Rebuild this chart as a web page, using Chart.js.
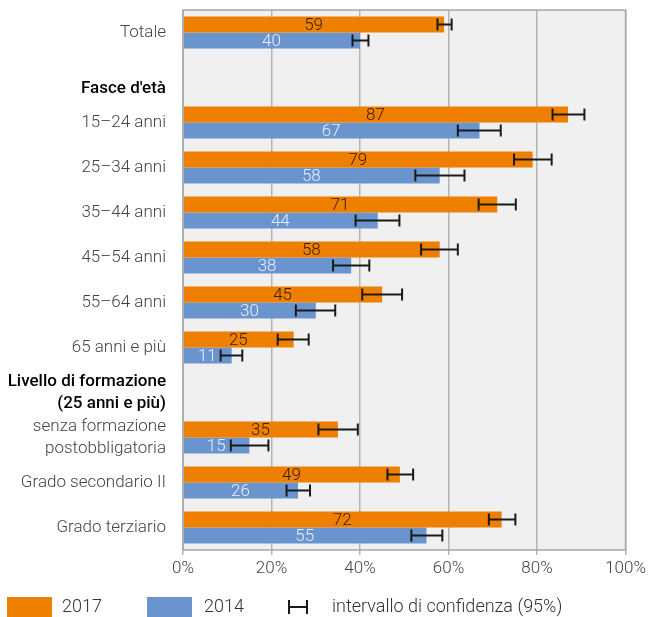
<!DOCTYPE html>
<html>
<head>
<meta charset="utf-8">
<script src="https://cdn.jsdelivr.net/npm/chart.js@4.4.0/dist/chart.umd.min.js"></script>
<style>
  html, body { margin: 0; padding: 0; background: #fff; }
  #wrap { position: relative; width: 650px; height: 617px; }
</style>
</head>
<body>
<div id="wrap"><canvas id="chart" width="650" height="617"></canvas></div>
<script>
// categories (header rows have no bars)
var labels = [
    "Totale",
    ["", "Fasce d'età"],
    "15\u201324 anni",
    "25\u201334 anni",
    "35\u201344 anni",
    "45\u201354 anni",
    "55\u201364 anni",
    "65 anni e più",
    ["Livello di formazione", "(25 anni e più)"],
    ["senza formazione", "postobbligatoria"],
    "Grado secondario II",
    "Grado terziario"
];
var headerRows = [1, 8];

var values2017 = [59, null, 87, 79, 71, 58, 45, 25, null, 35, 49, 72];
var low2017    = [57.5, null, 83.5, 74.8, 66.8, 53.8, 40.5, 21.4, null, 30.6, 46.2, 69.1];
var high2017   = [60.7, null, 90.7, 83.3, 75.2, 62.1, 49.5, 28.4, null, 39.5, 52.0, 75.1];

var values2014 = [40, null, 67, 58, 44, 38, 30, 11, null, 15, 26, 55];
var low2014    = [38.3, null, 62.1, 52.5, 39.0, 33.9, 25.5, 8.5, null, 10.8, 23.4, 51.6];
var high2014   = [41.9, null, 71.8, 63.6, 48.9, 42.1, 34.4, 13.4, null, 19.3, 28.7, 58.6];

var xTicks = [0, 20, 40, 60, 80, 100];

var ORANGE = "#ef7f00";
var BLUE = "#6994cd";
var FONT = "Roboto";

var ciLow = [low2017, low2014];
var ciHigh = [high2017, high2014];
var labelColors = ["#3a2200", "#e6edf7"];

var bgPlugin = {
    id: "bg",
    beforeDraw: function(chart){
        let a = chart.chartArea;
        let c = chart.ctx;
        c.save();
        c.fillStyle = "#f0f0f0";
        c.fillRect(a.left, a.top, a.right - a.left, a.bottom - a.top);
        c.restore();
    },
    afterDraw: function(chart){
        let a = chart.chartArea;
        let c = chart.ctx;
        c.save();
        c.strokeStyle = "#a8a8a8";
        c.lineWidth = 1.5;
        c.strokeRect(a.left, a.top, a.right - a.left, a.bottom - a.top);
        c.restore();
    }
};

var valuePlugin = {
    id: "values",
    afterDatasetsDraw: function(chart){
        let c = chart.ctx;
        let xs = chart.scales.x;
        c.save();
        chart.data.datasets.forEach(function(ds, di){
            let meta = chart.getDatasetMeta(di);
            meta.data.forEach(function(bar, i){
                if(ds.data[i] === null) return;
                // value label centred in the bar
                c.font = "300 17px " + FONT;
                c.fillStyle = labelColors[di];
                c.textAlign = "center";
                c.textBaseline = "middle";
                c.fillText(String(ds.data[i]), (xs.getPixelForValue(0) + bar.x) / 2, bar.y + 1);
                // confidence interval
                let x1 = xs.getPixelForValue(ciLow[di][i]);
                let x2 = xs.getPixelForValue(ciHigh[di][i]);
                c.strokeStyle = "#1a1a1a";
                c.lineWidth = 2;
                c.beginPath();
                c.moveTo(x1, bar.y); c.lineTo(x2, bar.y);
                c.moveTo(x1, bar.y - 6); c.lineTo(x1, bar.y + 6);
                c.moveTo(x2, bar.y - 6); c.lineTo(x2, bar.y + 6);
                c.stroke();
            });
        });
        c.restore();
    }
};

var legendPlugin = {
    id: "legendBottom",
    afterDraw: function(chart){
        let c = chart.ctx;
        let y = 607;
        c.save();
        c.fillStyle = ORANGE;
        c.fillRect(7, 597, 45, 21);
        c.fillStyle = BLUE;
        c.fillRect(147, 597, 45, 21);
        c.fillStyle = "#333";
        c.font = "300 18px " + FONT;
        c.textAlign = "left";
        c.textBaseline = "middle";
        c.fillText("2017", 62, y);
        c.fillText("2014", 204, y);
        c.fillText("intervallo di confidenza (95%)", 332, y);
        c.strokeStyle = "#1a1a1a";
        c.lineWidth = 2;
        c.beginPath();
        c.moveTo(289, y); c.lineTo(307, y);
        c.moveTo(289, y - 7); c.lineTo(289, y + 7);
        c.moveTo(307, y - 7); c.lineTo(307, y + 7);
        c.stroke();
        c.restore();
    }
};

var ctx = document.getElementById("chart");
var chart = new Chart(ctx, {
    type: "bar",
    data: {
        labels: labels,
        datasets: [
            { label: "2017", data: values2017, backgroundColor: ORANGE, barPercentage: 1.0, categoryPercentage: 0.711 },
            { label: "2014", data: values2014, backgroundColor: BLUE, barPercentage: 1.0, categoryPercentage: 0.711 }
        ]
    },
    options: {
        indexAxis: "y",
        responsive: false,
        animation: false,
        devicePixelRatio: 1,
        layout: { padding: { top: 10, right: 23, left: 0, bottom: 0 } },
        plugins: { legend: { display: false }, tooltip: { enabled: false } },
        scales: {
            x: {
                min: 0, max: 100,
                afterBuildTicks: function(scale){
                    scale.ticks = xTicks.map(function(v){ return { value: v }; });
                },
                afterFit: function(scale){ scale.height = 67; },
                grid: { color: "#b4b4b4", lineWidth: 1.5, drawTicks: true, tickLength: 5, tickColor: "#b4b4b4" },
                border: { display: false },
                ticks: {
                    color: "#444",
                    font: { family: FONT, size: 17, weight: "300" },
                    padding: 4,
                    maxRotation: 0,
                    callback: function(v){ return v + "%"; }
                }
            },
            y: {
                afterFit: function(scale){
                    scale.width = 183;
                    scale.paddingTop = 0;
                    scale.paddingBottom = 0;
                },
                grid: { display: false, drawTicks: false },
                border: { display: false },
                ticks: {
                    padding: 17,
                    autoSkip: false,
                    color: function(c){ return headerRows.indexOf(c.index) >= 0 ? "#000" : "#444"; },
                    font: function(c){
                        if(headerRows.indexOf(c.index) >= 0)
                            return { family: FONT, size: 17, weight: "500", lineHeight: 1.3 };
                        return { family: FONT, size: 17, weight: "300", lineHeight: 1.3 };
                    }
                }
            }
        }
    },
    plugins: [bgPlugin, valuePlugin, legendPlugin]
});
</script>
</body>
</html>
